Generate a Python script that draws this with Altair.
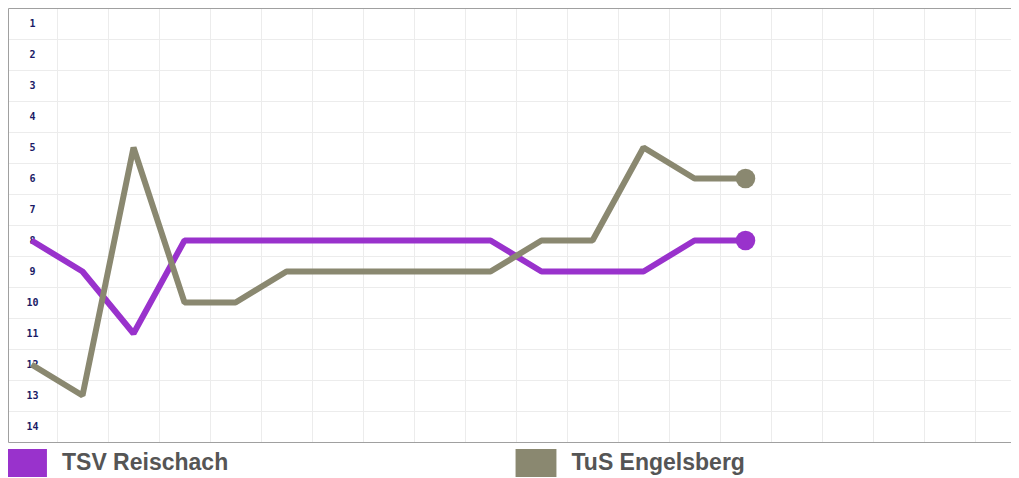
import altair as alt
import pandas as pd

days = list(range(1, 16))
reischach = [8, 9, 11, 8, 8, 8, 8, 8, 8, 8, 9, 9, 9, 8, 8]
engelsberg = [12, 13, 5, 10, 10, 9, 9, 9, 9, 9, 8, 8, 5, 6, 6]
teams = ["TSV Reischach", "TuS Engelsberg"]
colors = ["#9932CC", "#8A8870"]
x_grid = [i + 0.5 for i in range(1, 20)]
y_grid = [i + 0.5 for i in range(0, 15)]

rows = []
for d, r in zip(days, reischach):
    rows.append({"day": d, "rank": r, "team": teams[0]})
for d, r in zip(days, engelsberg):
    rows.append({"day": d, "rank": r, "team": teams[1]})
df = pd.DataFrame(rows)
df["series"] = df["team"]
last_day = max(days)

W = 1003
x = alt.X(
    "day:Q",
    scale=alt.Scale(domain=[0.539, 0.539 + W / 51.0], nice=False, zero=False),
    axis=alt.Axis(values=x_grid, grid=True, gridColor="#ececec", labels=False,
                  ticks=False, domain=False, title=None),
)
y = alt.Y(
    "rank:Q",
    scale=alt.Scale(domain=[0.5, 14.5], reverse=True, nice=False, zero=False),
    axis=alt.Axis(
        values=y_grid, grid=True,
        gridColor=alt.condition("datum.value == 0.5 || datum.value == 14.5",
                                alt.value("#a0a0a0"), alt.value("#ececec")),
        ticks=False, tickSize=0, domain=True, domainColor="#a0a0a0", title=None,
        labelExpr="datum.value < 14 ? datum.value + 0.5 : ''", labelAlign="center",
        labelPadding=-24, labelOffset=15.5, labelFont="DejaVu Sans Mono",
        labelFontSize=10, labelFontWeight="bold", labelColor="#1a1a66",
        labelFlush=False, labelOverlap=False,
    ),
)

# stroke scale takes its domain from the data so that it is not merged
# with the (explicit-domain) colour legend below
lines = alt.Chart(df).mark_line(strokeWidth=6, strokeJoin="bevel").encode(
    x=x, y=y,
    stroke=alt.Stroke("series:N", scale=alt.Scale(range=colors), legend=None),
)

ends = alt.Chart(df).transform_filter(alt.datum.day == last_day).mark_circle(size=380, opacity=1).encode(
    x=x, y=y,
    color=alt.Color(
        "team:N", scale=alt.Scale(domain=teams, range=colors),
        legend=alt.Legend(
            orient="none", legendX=4.5, legendY=441, direction="horizontal", title=None,
            symbolType="M-1.46,-1L1.46,-1L1.46,1L-1.46,1Z", symbolSize=784,
            symbolStrokeWidth=0, symbolOpacity=1,
            labelFont="Liberation Sans", labelFontSize=23, labelFontWeight="bold",
            labelColor="#555555", labelOffset=21.5, columnPadding=286.5,
            padding=0, labelLimit=400,
        ),
    ),
)

chart = alt.layer(lines, ends).properties(
    width=W, height=434, padding=0, background="#ffffff"
).configure_view(stroke=None)

chart.save("out.html", embed_options={"renderer": "svg", "actions": False})
